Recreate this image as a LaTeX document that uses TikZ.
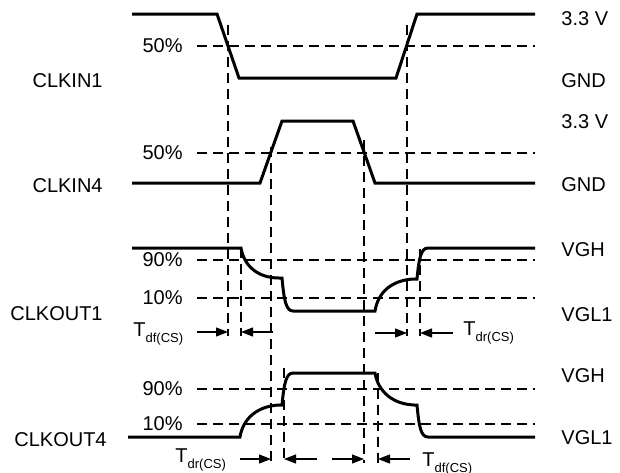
\documentclass[tikz,border=0pt]{standalone}
\usepackage{fontspec}
\setmainfont{Liberation Sans}
\usetikzlibrary{arrows.meta}

\newcommand{\tsub}[1]{\raisebox{-3pt}{\fontsize{6.5}{7}\selectfont #1}}

\begin{document}
\begin{tikzpicture}[x=0.5pt, y=-0.5pt,
    sig/.style={line width=1.5pt, line join=miter},
    guide/.style={line width=0.6pt, dash pattern=on 5pt off 3pt},
    tm/.style={line width=0.6pt, -{Triangle[length=6pt,width=4.5pt]}},
    lab/.style={font=\fontsize{10}{12}\selectfont, inner sep=0pt}]
  \useasboundingbox (0,0) rectangle (620,472);
  % --- guide lines ---
  \foreach \y in {46,153,260,298,389,424}
    \draw[guide] (197,\y) -- (535,\y);
  \foreach \x/\a/\b in {228/25/336, 241/248/336, 271/147/463, 284/368/463,
                        364/140/463, 378/373/463, 407/25/336, 420/249/336}
    \draw[guide] (\x,\a) -- (\x,\b);
  % --- inputs ---
  \draw[sig] (132,14) -- (217,14) -- (239,78) -- (396,78) -- (417,14) -- (535,14);
  \draw[sig] (132,183) -- (260,183) -- (282,121) -- (353,121) -- (375,183) -- (535,183);
  % --- outputs ---
  \draw[sig] (132,248) -- (241,248) .. controls (244,266) and (258,278) .. (279,278)
    -- (282,278) .. controls (284,300) and (286,311) .. (293,311) -- (375,311)
    .. controls (378,292) and (392,280) .. (414,279) -- (417,279)
    .. controls (419,258) and (421,248) .. (428,248) -- (535,248);
  \draw[sig] (128,437) -- (240,437) .. controls (243,418) and (258,406) .. (279,405)
    -- (282,405) .. controls (284,384) and (286,373) .. (293,373) -- (375,373)
    .. controls (378,391) and (392,404) .. (414,405) -- (417,405)
    .. controls (419,427) and (421,437) .. (428,437) -- (535,437);
  % --- signal names ---
  \node[lab,anchor=east] (in1)  at (103,81)  {CLKIN1};
  \node[lab,anchor=east] (in4)  at (103,186) {CLKIN4};
  \node[lab,anchor=east] (out1) at (103,314) {CLKOUT1};
  \node[lab,anchor=east] (out4) at (107,440) {CLKOUT4};
  % --- thresholds ---
  \node[lab,anchor=east] (p50a) at (183,46)  {50\%};
  \node[lab,anchor=east] (p50b) at (183,153) {50\%};
  \node[lab,anchor=east] (p90a) at (183,260) {90\%};
  \node[lab,anchor=east] (p10a) at (183,298) {10\%};
  \node[lab,anchor=east] (p90b) at (183,389) {90\%};
  \node[lab,anchor=east] (p10b) at (183,424) {10\%};
  % --- levels ---
  \node[lab,anchor=west] (hi1) at (561,19)  {3.3 V};
  \node[lab,anchor=west] (lo1) at (561,81)  {GND};
  \node[lab,anchor=west] (hi4) at (561,122) {3.3 V};
  \node[lab,anchor=west] (lo4) at (561,185) {GND};
  \node[lab,anchor=west] (vh1) at (561,250) {VGH};
  \node[lab,anchor=west] (vl1) at (561,315) {VGL1};
  \node[lab,anchor=west] (vh4) at (561,376) {VGH};
  \node[lab,anchor=west] (vl4) at (561,438) {VGL1};
  % --- delays ---
  \node[lab,anchor=base west] (tdf1) at (133,336) {T\tsub{df(CS)}};
  \node[lab,anchor=base west] (tdr1) at (463,335) {T\tsub{dr(CS)}};
  \node[lab,anchor=base west] (tdr4) at (175,462) {T\tsub{dr(CS)}};
  \node[lab,anchor=base west] (tdf4) at (422,466) {T\tsub{df(CS)}};
  \foreach \a/\b/\y in {197/228/332, 273/241/332, 375/407/333, 453/420/333,
                        240/271/459, 317/284/459, 332/364/459, 410/378/459}
    \draw[tm] (\a,\y) -- (\b,\y);
\end{tikzpicture}
\end{document}
